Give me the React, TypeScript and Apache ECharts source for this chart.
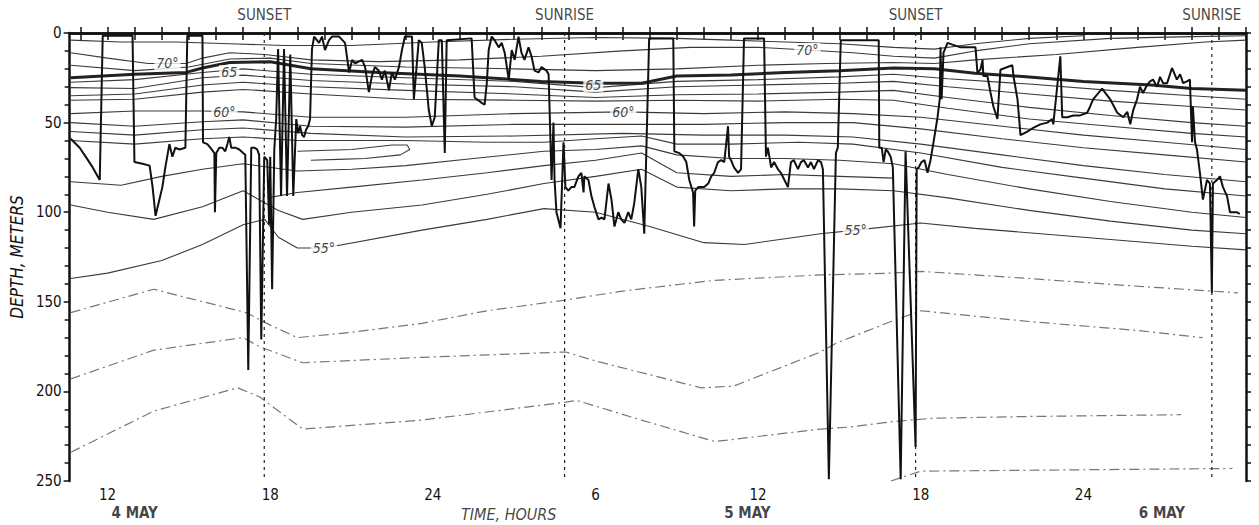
import { useEffect, useRef } from "react";
import * as echarts from "echarts";

const T_MIN = 10.6;
const T_MAX = 54;
const DEPTH_MAX = 250;

const FONT = "'Liberation Sans Narrow','DejaVu Sans Condensed','Liberation Sans',Arial,sans-serif";

// hours since 00:00 on 4 May
const hourTickValues = [11, 12, 13, 14, 15, 16, 17, 18, 19, 20, 21, 22, 23, 24, 25, 26, 27, 28, 29, 30, 31, 32, 33, 34, 35, 36, 37, 38, 39, 40, 41, 42, 43, 44, 45, 46, 47, 48, 49, 50, 51, 52, 53, 54];
const hourLabelValues = [12, 18, 24, 30, 36, 42, 48];

const sunEvents = [
  { label: "SUNSET", t: 17.78 },
  { label: "SUNRISE", t: 28.86 },
  { label: "SUNSET", t: 41.81 },
  { label: "SUNRISE", t: 52.74 },
];

const dateLabels = [
  { text: "4 MAY", t: 13.0 },
  { text: "5 MAY", t: 35.6 },
  { text: "6 MAY", t: 50.9 },
];
const timeTitle = { text: "TIME, HOURS", t: 26.8 };

const isothermLabels = [
  { text: "70°", t: 14.21, d: 16.7 },
  { text: "65", t: 16.49, d: 21.8 },
  { text: "60°", t: 16.31, d: 44 },
  { text: "65", t: 29.92, d: 29 },
  { text: "60°", t: 31.03, d: 44 },
  { text: "70°", t: 37.82, d: 9.5 },
  { text: "55°", t: 19.98, d: 120 },
  { text: "55°", t: 39.6, d: 110 },
];

// fish depth track: [hours, depth m]
const fishTrack: [number, number][] = [
  [10.64, 59], [10.97, 64], [11.19, 69], [11.45, 75], [11.71, 82], [11.82, 1.5], [12.92, 1.5], [12.99, 72], [13.29, 73], [13.55, 74], [13.66, 86], [13.77, 102], [13.91, 93], [14.02, 86], [14.13, 75], [14.28, 62], [14.39, 69], [14.5, 64], [14.65, 65], [14.87, 64], [14.94, 1.5], [15.5, 1.5], [15.52, 61], [15.68, 62], [15.79, 64], [15.94, 67], [15.96, 100], [16.01, 67], [16.12, 64], [16.23, 64], [16.34, 66], [16.42, 62], [16.49, 58], [16.56, 64], [16.71, 64], [16.86, 65], [17.0, 67], [17.08, 68], [17.19, 188], [17.3, 64], [17.41, 64], [17.52, 65], [17.59, 68], [17.67, 171], [17.78, 69], [17.89, 71], [17.96, 107], [18.0, 69], [18.07, 143], [18.15, 65], [18.22, 48], [18.29, 9], [18.4, 91], [18.51, 9], [18.62, 91], [18.74, 12], [18.85, 91], [18.96, 48], [19.03, 56], [19.1, 52], [19.18, 57], [19.25, 58], [19.32, 54], [19.4, 52], [19.47, 48], [19.54, 9], [19.62, 2], [19.8, 5.5], [19.91, 2], [20.02, 9.5], [20.17, 4], [20.28, 2], [20.54, 2], [20.76, 5.5], [20.91, 22], [21.02, 15], [21.13, 17], [21.39, 15], [21.5, 19], [21.64, 33], [21.75, 24], [21.86, 19], [22.01, 21], [22.12, 26], [22.23, 21], [22.38, 32], [22.49, 22], [22.6, 26], [22.75, 19], [22.86, 9.5], [22.97, 2], [23.23, 2], [23.3, 37], [23.48, 4], [23.59, 5.5], [23.7, 19], [23.85, 43], [23.96, 52], [24.07, 47], [24.22, 4], [24.33, 4], [24.44, 67], [24.51, 4], [25.43, 3], [25.54, 36], [25.8, 39], [25.91, 40], [25.99, 28], [26.06, 9.5], [26.17, 2], [26.28, 4], [26.43, 8], [26.54, 5.5], [26.65, 11], [26.8, 26], [26.91, 9.5], [27.02, 15], [27.16, 2], [27.27, 11], [27.38, 15], [27.53, 8], [27.64, 13], [27.75, 21], [27.9, 22], [28.01, 19], [28.19, 21], [28.27, 23], [28.38, 82], [28.45, 50], [28.49, 82], [28.56, 100], [28.71, 109], [28.82, 61], [28.89, 86], [29.0, 88], [29.11, 86], [29.22, 86], [29.37, 80], [29.48, 78], [29.56, 89], [29.59, 80], [29.74, 82], [29.85, 91], [29.96, 97], [30.11, 104], [30.22, 103], [30.33, 104], [30.48, 84], [30.59, 93], [30.7, 108], [30.84, 100], [30.95, 104], [31.07, 106], [31.21, 100], [31.32, 104], [31.43, 95], [31.58, 76], [31.69, 86], [31.8, 112], [31.98, 3], [32.87, 3], [32.91, 66], [33.09, 67], [33.24, 69], [33.35, 72], [33.46, 82], [33.6, 89], [33.64, 108], [33.68, 88], [33.79, 86], [34.01, 86], [34.16, 84], [34.27, 80], [34.38, 78], [34.52, 72], [34.64, 71], [34.75, 72], [34.89, 52], [34.93, 69], [35.0, 71], [35.11, 75], [35.26, 78], [35.37, 76], [35.48, 3], [36.22, 3], [36.29, 69], [36.36, 64], [36.48, 75], [36.59, 72], [36.73, 76], [36.84, 78], [37.1, 86], [37.21, 72], [37.32, 71], [37.47, 76], [37.58, 72], [37.69, 71], [37.84, 75], [37.95, 72], [38.06, 76], [38.21, 71], [38.32, 72], [38.39, 76], [38.61, 249], [38.87, 67], [38.94, 64], [39.05, 4], [40.45, 4], [40.47, 64], [40.56, 64], [40.63, 72], [40.71, 65], [40.78, 66], [40.89, 69], [40.97, 75], [41.26, 249], [41.44, 66], [41.81, 231], [41.85, 76], [41.92, 75], [42.03, 72], [42.14, 71], [42.25, 78], [42.36, 71], [42.47, 61], [42.62, 47], [42.7, 37], [42.73, 8], [42.77, 37], [42.84, 11], [42.99, 5.5], [43.17, 6.5], [43.47, 8], [44.02, 8], [44.09, 22], [44.2, 20.5], [44.28, 15], [44.31, 24], [44.46, 24], [44.57, 33], [44.68, 41], [44.83, 48], [44.94, 20.5], [45.2, 19], [45.38, 18], [45.42, 24], [45.57, 37], [45.68, 57], [45.93, 55], [46.15, 53], [46.41, 51], [46.67, 50], [46.85, 48], [46.89, 51], [47.15, 13], [47.22, 47], [47.41, 47], [47.63, 46], [47.88, 46], [48.14, 44.5], [48.25, 41], [48.36, 37], [48.69, 31], [48.99, 37], [49.25, 44.5], [49.47, 47], [49.62, 44], [49.73, 51], [49.84, 43], [49.98, 37], [50.09, 30], [50.2, 33.5], [50.35, 29], [50.46, 27], [50.57, 26], [50.72, 30], [50.83, 24.5], [50.94, 28], [51.09, 28], [51.27, 19.5], [51.45, 26], [51.57, 23], [51.68, 28], [51.82, 27], [51.93, 26], [52.01, 61], [52.04, 41], [52.12, 61], [52.19, 65], [52.3, 78], [52.41, 93], [52.56, 82], [52.67, 84], [52.74, 145], [52.78, 84], [52.93, 82], [53.04, 80], [53.15, 86], [53.3, 91], [53.41, 100], [53.66, 100], [53.77, 101],
];

// isotherms: [hours, depth m]
const isoNearSurface: [number, number][] = [[10.64, 4], [12.5, 5], [14.5, 5], [16.5, 6], [18.5, 7], [21, 7], [24, 5], [27, 3.5], [30, 2.5], [33, 3], [35, 4], [37, 5], [39, 6], [41, 8], [42.5, 9], [44, 6], [46, 3], [48, 1.5]];
const iso70: [number, number][] = [[10.64, 11], [12, 14], [13.5, 17], [14.9, 17], [15.5, 14], [16.5, 11], [17.8, 12], [19.5, 15], [22, 16], [25, 15], [28, 13], [31, 10], [33.5, 8], [36, 8], [37.8, 9.5], [39.5, 11], [41, 13], [42.5, 14], [44, 10], [46, 6], [49, 3], [52, 2], [54, 1.5]];
const isoA: [number, number][] = [[10.64, 18], [13, 21], [15, 19], [16.5, 14.5], [18, 14], [19.5, 17], [23, 19], [27, 20], [30, 21], [33, 20], [36, 18], [38.5, 17], [41, 16.5], [42.5, 17], [44, 15], [47, 12], [50, 8], [52.5, 5], [54, 4]];
const iso65: [number, number][] = [[10.64, 25], [13, 23], [14.9, 22], [15.5, 19.5], [16.5, 16.5], [18, 16], [19.5, 20], [22, 22], [25, 24], [28, 27], [30, 28], [31.7, 28], [33, 24], [35, 23.5], [37, 22], [39, 21], [41, 19.5], [42.5, 20], [44, 22.5], [46, 24.5], [48, 27], [50.5, 29], [52, 31], [54, 32]];
const isoB1: [number, number][] = [[10.64, 27.5], [13, 26], [15.5, 22], [17, 20], [19.5, 23], [23, 25], [27, 27], [30, 30.5], [33, 27], [36, 26], [39, 24.5], [41, 23], [43, 25.5], [46, 28.5], [49, 32], [52, 35], [54, 37]];
const isoB2: [number, number][] = [[10.64, 30.5], [13, 31], [15.5, 25], [17, 23.5], [19.5, 26.5], [23, 28.5], [27, 30], [30, 33], [33, 30], [36, 29], [39, 28], [41, 27], [43, 30], [46, 34], [49, 38], [52, 41], [54, 43]];
const isoB3: [number, number][] = [[10.64, 35], [13, 34], [15.5, 29], [17, 27.5], [19.5, 30], [23, 32], [27, 34], [30, 36], [33, 34.5], [36, 34], [39, 33], [41, 32], [43, 36], [46, 41.5], [49, 46], [52, 50], [54, 52]];
const isoB4: [number, number][] = [[10.64, 37.5], [13, 37], [15.5, 33], [17, 31.5], [19.5, 34], [23, 37], [27, 37.5], [30, 38], [33, 37.5], [36, 38], [39, 37], [41, 37.5], [43, 42], [46, 48], [49, 52], [52, 56], [54, 58]];
const iso60: [number, number][] = [[10.64, 45], [13, 43.5], [15.5, 43.5], [17, 44], [19.5, 47], [23, 47], [27, 45], [31, 44], [34, 45], [37, 44], [39.5, 45], [42, 47], [45, 52], [48, 57], [51, 61], [54, 65]];
const isoC1: [number, number][] = [[10.64, 50], [13, 52], [15.5, 49.5], [17, 48.5], [19.5, 52], [23, 52.5], [27, 51], [31, 51], [34, 51], [37, 50], [39.5, 50], [42, 53.5], [45, 59], [48, 64], [51, 68], [54, 72]];
const isoC2: [number, number][] = [[10.64, 55], [13, 57], [15.5, 54], [17, 53], [19.5, 56], [23, 58], [27, 57.5], [31, 56], [34, 57], [37, 57], [39.5, 58], [42, 62], [45, 68], [48, 74], [51, 79], [54, 83]];
const isoC3: [number, number][] = [[10.64, 60], [13, 62], [15.5, 59], [17, 58], [19, 60], [23, 60], [26, 61], [28.1, 61], [30, 59], [31.7, 57.5], [33, 62], [35, 62], [37.5, 61], [39.5, 62], [42, 67], [45, 75], [48, 81], [51, 87], [54, 91]];
const isoLoop: [number, number][] = [[19, 66], [21, 65], [22.5, 62.5], [23.05, 62.5], [23.15, 65], [22.8, 68], [21.5, 70], [20.5, 70.5], [19.5, 71]];
const isoM1: [number, number][] = [[10.64, 83], [12.5, 85], [14, 80], [15.5, 76], [17, 73], [19, 77], [21, 76], [23, 74], [25.5, 70], [28.1, 66], [30, 65], [31.7, 63], [33, 68], [35, 70], [37, 70], [39, 71], [41, 73], [43, 79], [46, 87], [49, 94], [52, 100], [54, 103]];
const isoM1b: [number, number][] = [[17.9, 92], [19, 89], [21, 86], [23.6, 82], [26, 78], [28.1, 74], [30, 71], [31.7, 67], [33, 78], [35, 80], [37, 79], [39, 80], [41, 81]];
const isoM2: [number, number][] = [[10.64, 96], [12, 100], [13.7, 104], [15.5, 97], [17, 88], [18.3, 99], [19.2, 104], [21, 100], [23.6, 96], [26, 90], [28.1, 84], [30, 80], [31.7, 76], [33, 86], [35, 88], [37, 87], [39, 87], [41, 88], [43, 92], [46, 99], [49, 105], [52, 110], [54, 112]];
const iso55: [number, number][] = [[10.64, 137], [12, 134], [14, 127], [15.5, 118], [17, 107], [17.8, 104], [18.3, 114], [19, 120], [20, 120], [23.6, 110], [26, 104], [28.1, 98], [30, 100], [32, 108], [34, 117], [35.5, 118], [38.3, 112], [39.6, 110], [42, 106], [44, 109], [48, 114], [52, 119], [54, 121]];
const isoDeep1: [number, number][] = [[10.64, 156], [13.7, 143], [17.1, 156], [18, 163], [19, 170], [21, 167], [23.6, 162], [26, 155], [28.9, 149], [31, 144], [34.4, 138], [38.3, 135], [40.9, 134], [42, 133], [46, 137], [49.7, 141], [53.7, 145]];
const isoDeep2: [number, number][] = [[10.64, 193], [13.7, 177], [17, 170], [17.6, 175], [19.2, 184], [23.6, 181], [28.9, 178], [30, 183], [33.9, 198], [35.1, 197], [38.3, 178], [38.9, 173], [40.9, 161], [42, 155], [46, 161], [50, 166], [52.4, 170]];
const isoDeep3: [number, number][] = [[10.64, 234], [13.7, 211], [16.8, 198], [17.6, 203], [19.2, 221], [23.6, 216], [28.9, 206], [29.3, 205], [31.7, 216], [34.4, 228], [38.3, 221], [39.3, 220], [40.9, 217], [42.4, 215], [46, 214], [51.6, 213]];
const isoDeep4: [number, number][] = [[40.9, 250], [42, 244.5], [46, 244], [53.5, 243]];

const solidIsotherms = [isoNearSurface, iso70, isoA, isoB1, isoB2, isoB3, isoB4, iso60, isoC1, isoC2, isoC3, isoLoop, isoM1, isoM1b, isoM2, iso55];
const thermocline = [iso65];
const deepIsotherms = [isoDeep1, isoDeep2, isoDeep3, isoDeep4];

export default function App() {
  const ref = useRef<HTMLDivElement>(null);

  useEffect(() => {
    if (!ref.current) return;
    const chart = echarts.init(ref.current, undefined, { renderer: "svg" });

    const lineBase = {
      type: "line",
      showSymbol: false,
      symbol: "none",
      silent: true,
      animation: false,
    };

    const series: any[] = [];
    solidIsotherms.forEach((d) =>
      series.push({ ...lineBase, data: d, z: 2, lineStyle: { color: "#3a3a3a", width: 1.1 } })
    );
    thermocline.forEach((d) =>
      series.push({ ...lineBase, data: d, z: 2, lineStyle: { color: "#222", width: 3 } })
    );
    deepIsotherms.forEach((d) =>
      series.push({ ...lineBase, data: d, z: 2, lineStyle: { color: "#777", width: 1.2, type: [10, 4, 2, 4] } })
    );
    sunEvents.forEach((s) =>
      series.push({ ...lineBase, data: [[s.t, 0], [s.t, DEPTH_MAX]], z: 3, lineStyle: { color: "#222", width: 1.2, type: [3, 4] } })
    );
    series.push({ ...lineBase, data: fishTrack, z: 6, lineStyle: { color: "#111", width: 2 } });

    const textBase = { fontFamily: FONT, color: "#111" };
    series.push({
      type: "scatter",
      symbolSize: 0,
      silent: true,
      clip: false,
      z: 8,
      data: [
        ...sunEvents.map((s) => ({
          value: [s.t, 0],
          label: { show: true, formatter: s.label, position: "top", distance: 11, fontSize: 15, ...textBase },
        })),
        ...isothermLabels.map((l) => ({
          value: [l.t, l.d],
          label: {
            show: true, formatter: l.text, position: "inside", fontSize: 14, fontStyle: "italic",
            backgroundColor: "#fff", padding: [0, 2], ...textBase,
          },
        })),
        ...dateLabels.map((l) => ({
          value: [l.t, DEPTH_MAX],
          label: { show: true, formatter: l.text, position: "inside", offset: [0, 32], fontSize: 15, fontWeight: "bold", ...textBase },
        })),
        {
          value: [timeTitle.t, DEPTH_MAX],
          label: { show: true, formatter: timeTitle.text, position: "inside", offset: [0, 33], fontSize: 16, fontStyle: "italic", ...textBase },
        },
      ],
    });

    const axisLine = { lineStyle: { color: "#111", width: 2.5 } };
    const tickStyle = { color: "#111", width: 1.5 };

    chart.setOption({
      animation: false,
      backgroundColor: "#fff",
      grid: { left: 68, right: 13, top: 33, bottom: 44 },
      xAxis: [
        {
          type: "value", min: T_MIN, max: T_MAX, position: "bottom",
          axisLine,
          axisTick: { show: true, customValues: hourTickValues, length: 7, lineStyle: tickStyle },
          axisLabel: {
            customValues: hourLabelValues,
            formatter: (v: number) => String(v % 24 === 0 ? 24 : v % 24),
            fontSize: 15, margin: 6, ...textBase,
          },
          splitLine: { show: false },
        },
        {
          type: "value", min: T_MIN, max: T_MAX, position: "top",
          axisLine,
          axisTick: { show: true, customValues: hourTickValues, length: 6, lineStyle: tickStyle },
          axisLabel: { show: false },
          splitLine: { show: false },
        },
      ],
      yAxis: [
        {
          type: "value", inverse: true, min: 0, max: DEPTH_MAX, interval: 50, position: "left",
          axisLine,
          axisTick: { show: true, length: 6, lineStyle: tickStyle },
          minorTick: { show: true, splitNumber: 5, length: 5, lineStyle: tickStyle },
          axisLabel: { fontSize: 15, margin: 8, ...textBase },
          splitLine: { show: false },
          minorSplitLine: { show: false },
          name: "DEPTH, METERS",
          nameLocation: "middle",
          nameGap: 42,
          nameRotate: 90,
          nameTextStyle: { fontSize: 17, fontStyle: "italic", ...textBase },
        },
        {
          type: "value", inverse: true, min: 0, max: DEPTH_MAX, interval: 10, position: "right",
          axisLine,
          axisTick: { show: true, length: 5, lineStyle: tickStyle },
          axisLabel: { show: false },
          splitLine: { show: false },
        },
      ],
      series,
    });

    return () => chart.dispose();
  }, []);

  return (
    <div
      ref={ref}
      style={{ position: "fixed", left: 0, top: 0, width: 1259, height: 525, background: "#fff" }}
    />
  );
}
